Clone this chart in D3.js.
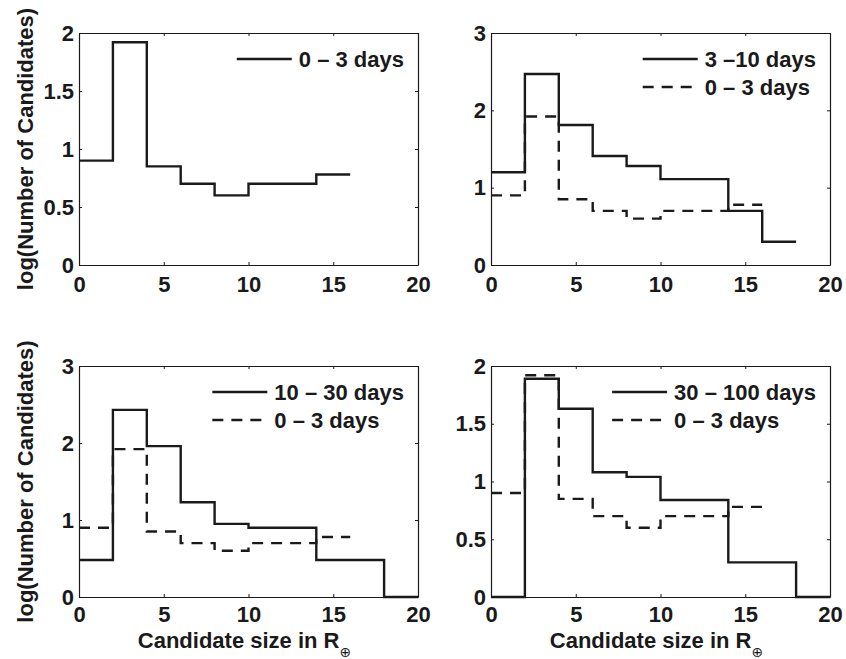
<!DOCTYPE html>
<html>
<head>
<meta charset="utf-8">
<script src="https://cdn.jsdelivr.net/npm/d3@7"></script>
<style>
  html, body { margin: 0; padding: 0; background: #fff; }
  svg { display: block; }
  text { font-family: "Liberation Sans", Arial, Helvetica, sans-serif; font-weight: bold; fill: #1a1a1a; }
</style>
</head>
<body>
<svg id="chart" width="846" height="659"></svg>
<script>
// ---- data (log10 of number of candidates per 2 R_earth bin) ----
const binEdges = [0, 2, 4, 6, 8, 10, 12, 14, 16, 18, 20];
const days0to3   = [0.90, 1.92, 0.85, 0.70, 0.60, 0.70, 0.70, 0.78];
const days3to10  = [1.20, 2.47, 1.81, 1.41, 1.28, 1.11, 1.11, 0.70, 0.30];
const days10to30 = [0.48, 2.43, 1.96, 1.23, 0.95, 0.90, 0.90, 0.48, 0.48, 0];
const days30to100 = [0, 1.89, 1.63, 1.08, 1.04, 0.84, 0.84, 0.30, 0.30, 0];

const xTicks = [0, 5, 10, 15, 20];
const yTicksA = [0, 0.5, 1, 1.5, 2];
const yTicksB = [0, 1, 2, 3];

const labelsSolid = ["0 \u2013 3 days", "3 \u201310 days", "10 \u2013 30 days", "30 \u2013 100 days"];
const labelDashed = "0 \u2013 3 days";
const yAxisLabel = "log(Number of Candidates)";
const xAxisLabel = "Candidate size in R";

const panels = [
  { left: 79,  right: 418, top: 33,  bottom: 265, ymax: 2, yticks: yTicksA, solid: days0to3,   label: labelsSolid[0], dashed: null,     ylab: true,  xlab: false, pad: 11 },
  { left: 491, right: 830, top: 33,  bottom: 265, ymax: 3, yticks: yTicksB, solid: days3to10,  label: labelsSolid[1], dashed: days0to3, ylab: false, xlab: false, pad: 11 },
  { left: 79,  right: 418, top: 366, bottom: 597, ymax: 3, yticks: yTicksB, solid: days10to30, label: labelsSolid[2], dashed: days0to3, ylab: true,  xlab: true,  pad: 9.5 },
  { left: 491, right: 830, top: 366, bottom: 597, ymax: 2, yticks: yTicksA, solid: days30to100,label: labelsSolid[3], dashed: days0to3, ylab: false, xlab: true,  pad: 9.5 }
];

const svg = d3.select("#chart");
const FS = 22;
const ink = "#1a1a1a";

function stepPoints(vals) {
  const pts = vals.map((v, i) => [binEdges[i], v]);
  pts.push([binEdges[vals.length], vals[vals.length - 1]]);
  return pts;
}

panels.forEach(p => {
  const x = d3.scaleLinear().domain([0, 20]).range([p.left, p.right]);
  const y = d3.scaleLinear().domain([0, p.ymax]).range([p.bottom, p.top]);
  const g = svg.append("g");

  // axes with inward ticks
  const fmt = d => String(d);
  const ax = g.append("g").attr("transform", `translate(0,${p.bottom})`)
    .call(d3.axisBottom(x).tickValues(xTicks).tickFormat(fmt).tickSizeInner(-3).tickSizeOuter(0).tickPadding(p.pad));
  const ay = g.append("g").attr("transform", `translate(${p.left},0)`)
    .call(d3.axisLeft(y).tickValues(p.yticks).tickFormat(fmt).tickSizeInner(-3).tickSizeOuter(0).tickPadding(5));
  const at = g.append("g").attr("transform", `translate(0,${p.top})`)
    .call(d3.axisTop(x).tickValues(xTicks).tickFormat("").tickSizeInner(-3).tickSizeOuter(0));
  const ar = g.append("g").attr("transform", `translate(${p.right},0)`)
    .call(d3.axisRight(y).tickValues(p.yticks).tickFormat("").tickSizeInner(-3).tickSizeOuter(0));
  [ax, ay, at, ar].forEach(a => {
    a.selectAll("path.domain").attr("stroke", ink).attr("stroke-width", 1.2);
    a.selectAll(".tick line").attr("stroke", ink).attr("stroke-width", 1);
    a.selectAll("text").attr("font-size", FS).attr("font-family", "Liberation Sans, Arial, sans-serif")
      .attr("font-weight", "bold").attr("fill", ink);
  });

  const line = d3.line().x(d => x(d[0])).y(d => y(d[1])).curve(d3.curveStepAfter);

  g.append("path").datum(stepPoints(p.solid)).attr("d", line)
    .attr("fill", "none").attr("stroke", ink).attr("stroke-width", 2.4);
  if (p.dashed) {
    g.append("path").datum(stepPoints(p.dashed)).attr("d", line)
      .attr("fill", "none").attr("stroke", ink).attr("stroke-width", 2.4)
      .attr("stroke-dasharray", "11,8");
  }

  // legend (no box)
  const lg = g.append("g");
  const labs = p.dashed ? [p.label, labelDashed] : [p.label];
  const tmp = labs.map(l => lg.append("text").attr("font-size", FS).text(l));
  const w = d3.max(tmp, t => t.node().getComputedTextLength());
  const tx = p.right - 14 - w;
  tmp.forEach((t, i) => {
    const ly = p.top + 26 + i * 28;
    t.attr("x", tx).attr("y", ly + 8);
    const seg = lg.append("line").attr("x1", tx - 62).attr("x2", tx - 7)
      .attr("y1", ly).attr("y2", ly).attr("stroke", ink).attr("stroke-width", 2.4);
    if (i === 1) seg.attr("stroke-dasharray", "11,8");
  });

  if (p.ylab) {
    const cy = (p.top + p.bottom) / 2;
    g.append("text").attr("transform", `translate(33,${cy}) rotate(-90)`)
      .attr("text-anchor", "middle").attr("font-size", FS).text(yAxisLabel);
  }
  if (p.xlab) {
    const cx = (p.left + p.right) / 2 - 4;
    const t = g.append("text").attr("x", cx).attr("y", 648).attr("text-anchor", "middle").attr("font-size", FS);
    t.append("tspan").text(xAxisLabel);
    t.append("tspan").attr("dy", 9).attr("font-size", 14).attr("font-weight", "normal")
      .attr("font-family", "DejaVu Sans, sans-serif").text("\u2295");
  }
});
</script>
</body>
</html>
